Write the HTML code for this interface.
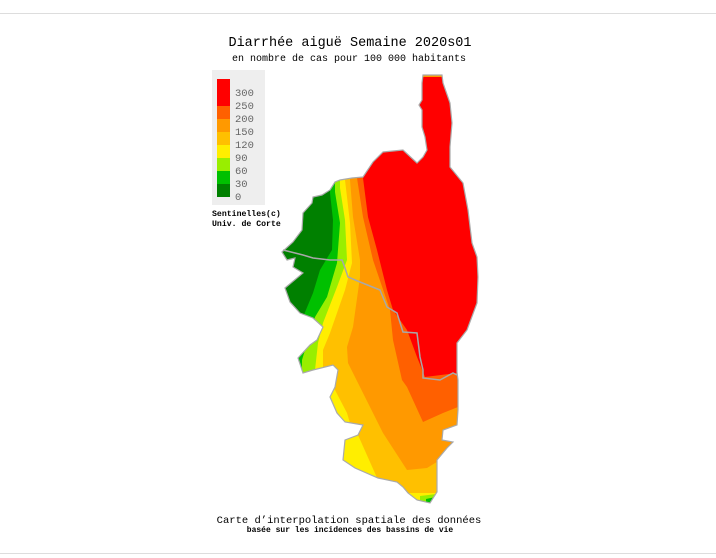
<!DOCTYPE html>
<html><head><meta charset="utf-8"><style>
html,body{margin:0;padding:0;background:#fff;}
svg{display:block;}
text{font-family:"Liberation Mono","DejaVu Sans Mono",monospace;}
</style></head><body>
<svg width="716" height="558" viewBox="0 0 716 558" xmlns="http://www.w3.org/2000/svg">
<rect width="716" height="558" fill="#fff"/>
<line x1="0" y1="13.5" x2="716" y2="13.5" stroke="#ddd" stroke-width="1"/>
<line x1="0" y1="553.5" x2="716" y2="553.5" stroke="#ddd" stroke-width="1"/>
<text x="350" y="46" font-size="13.5" text-anchor="middle" fill="#000">Diarrhée aiguë Semaine 2020s01</text>
<text x="349" y="61" font-size="10" text-anchor="middle" fill="#000">en nombre de cas pour 100 000 habitants</text>
<rect x="212" y="70" width="53" height="135" fill="#eeeeee"/>
<rect x="217" y="79" width="13" height="27" fill="#ff0000"/>
<rect x="217" y="106" width="13" height="13" fill="#ff6000"/>
<rect x="217" y="119" width="13" height="13" fill="#ff9900"/>
<rect x="217" y="132" width="13" height="13" fill="#ffc000"/>
<rect x="217" y="145" width="13" height="13" fill="#ffee00"/>
<rect x="217" y="158" width="13" height="13" fill="#99ee00"/>
<rect x="217" y="171" width="13" height="13" fill="#00c000"/>
<rect x="217" y="184" width="13" height="13" fill="#008000"/>
<g font-size="10.5" fill="#666">
<text x="235" y="96">300</text><text x="235" y="109">250</text><text x="235" y="122">200</text>
<text x="235" y="135">150</text><text x="235" y="148">120</text><text x="235" y="161">90</text>
<text x="235" y="174">60</text><text x="235" y="187">30</text><text x="235" y="200">0</text>
</g>
<text x="212" y="216" font-size="8.2" font-weight="bold" fill="#000">Sentinelles(c)</text>
<text x="212" y="226" font-size="8.2" font-weight="bold" fill="#000">Univ. de Corte</text>
<defs><clipPath id="isl"><path id="ip" d="M423,75 L442,75 L443,83 L450,103 L452,123 L450,147 L450,167 L463,183 L468,210 L472,243 L477,257 L478,277 L477,303 L467,330 L457,343 L457,372 L458,380 L458,410 L457,425 L443,430 L442,440 L453,442 L447,448 L437,460 L437,492 L430,503 L417,500 L408,493 L403,487 L397,482 L378,478 L355,468 L343,460 L345,440 L358,435 L363,425 L345,422 L337,413 L330,397 L335,387 L338,370 L333,365 L313,370 L303,373 L298,358 L310,345 L317,340 L323,327 L313,318 L300,313 L290,302 L285,288 L303,273 L293,267 L295,258 L287,260 L282,252 L293,242 L302,230 L303,213 L312,203 L313,197 L322,195 L330,190 L335,182 L340,180 L352,178 L363,177 L373,162 L383,152 L403,150 L417,163 L423,157 L427,150 L425,137 L422,127 L422,110 L419,105 L422,100 L422,83 Z"/></clipPath></defs>
<g clip-path="url(#isl)">
<rect x="250" y="60" width="260" height="470" fill="#008000"/>
<polygon fill="#00c000" points="330,150 330,193 333,220 332,250 320,270 313,293 303,317 313,320 296,356 302,380 280,380 280,540 540,540 540,100 330,100"/>
<polygon fill="#99ee00" points="335,150 335,192 340,223 337,263 327,297 315,317 305,350 302,360 300,540 540,540 540,100 335,100"/>
<polygon fill="#ffee00" points="340,150 340,188 345,220 347,260 337,287 323,323 318,343 315,370 315,540 540,540 540,100 340,100"/>
<polygon fill="#ffc000" points="345,150 345,180 350,223 352,263 345,290 330,333 323,350 323,367 330,380 336,392 347,413 352,430 540,430 540,100 345,100"/>
<polygon fill="#ffc000" points="352,430 358,435 378,480 540,480 540,430"/>
<polygon fill="#ffc000" points="378,480 385,540 540,540 540,470"/>
<polygon fill="#ff9900" points="350,150 350,180 353,217 360,260 360,277 353,327 347,347 348,363 363,393 383,433 407,470 427,468 440,460 540,460 540,100 350,100"/>
<polygon fill="#ff6000" points="357,150 357,178 363,217 373,260 390,310 393,340 402,380 407,387 423,422 443,413 458,407 540,407 540,100 357,100"/>
<polygon fill="#ff0000" points="363,150 363,178 368,217 377,250 387,290 393,310 407,330 417,357 425,377 457,373 540,373 540,60 363,60"/>
<polygon fill="#ff9900" points="415,60 450,60 450,77 415,77"/>
<polygon fill="#ffee00" points="400,493 445,493 445,540 400,540"/>
<polygon fill="#99ee00" points="420,496 445,493 445,540 420,540"/>
<polygon fill="#00c000" points="426,499 445,495 445,540 426,540"/>
</g>
<use href="#ip" fill="none" stroke="#aaa" stroke-width="1.2"/>
<polyline fill="none" stroke="#a8a8a8" stroke-width="1.5" points="283,250 303,255 313,258 330,260 342,260 345,268 348,277 360,282 380,290 387,307 397,313 403,332 417,333 420,357 423,370 423,378 440,380 453,373 457,375"/>
<text x="349" y="523" font-size="10.5" text-anchor="middle" fill="#000">Carte d’interpolation spatiale des données</text>
<text x="350" y="532" font-size="8" font-weight="bold" text-anchor="middle" fill="#000">basée sur les incidences des bassins de vie</text>
</svg>
</body></html>
